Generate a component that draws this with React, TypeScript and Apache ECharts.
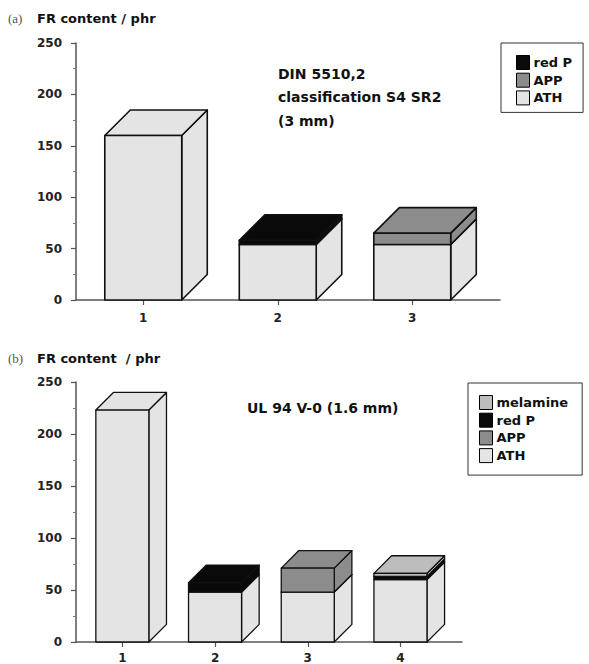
import React, { useEffect, useRef } from "react";
import * as echarts from "echarts";

// ---- data ----
const catsA = ["1", "2", "3"];
const athA = [160, 54, 54];
const appA = [0, 0, 11];
const redPA = [0, 4, 0];

const catsB = ["1", "2", "3", "4"];
const athB = [223, 48, 48, 60];
const appB = [0, 0, 23, 0];
const redPB = [0, 9, 0, 3];
const melB = [0, 0, 0, 3];

const yMax = 250;
const yStep = 50;

const COLORS: Record<string, string> = {
  ATH: "#e4e4e4",
  APP: "#8c8c8c",
  "red P": "#0a0a0a",
  melamine: "#bdbdbd",
};

const FONT = "DejaVu Sans";

function buildSeries(
  comps: { name: string; values: number[] }[],
  gridIdx: number,
  lw: number
) {
  const n = comps[0].values.length;
  const base = new Array(n).fill(0);
  const out: any[] = [];
  comps.forEach((c) => {
    const data: number[][] = [];
    c.values.forEach((v, i) => {
      if (v > 0) {
        data.push([i + 1, base[i], base[i] + v]);
        base[i] += v;
      }
    });
    const color = COLORS[c.name];
    out.push({
      type: "custom",
      name: c.name,
      xAxisIndex: gridIdx,
      yAxisIndex: gridIdx,
      itemStyle: { color },
      encode: { x: 0, y: 2 },
      data,
      renderItem: (params: any, api: any) => {
        const x = api.value(0);
        const b = api.value(1);
        const t = api.value(2);
        const p0 = api.coord([x, b]);
        const p1 = api.coord([x, t]);
        const band = api.size([1, 0])[0];
        const w = band * 0.572;
        const d = band * 0.19;
        const x0 = p0[0] - w / 2;
        const x1 = x0 + w;
        const yb = p0[1];
        const yt = p1[1];
        const style = { fill: color, stroke: "#111", lineWidth: lw, lineJoin: "round" };
        return {
          type: "group",
          children: [
            {
              type: "polygon",
              shape: { points: [[x1, yb], [x1 + d, yb - d], [x1 + d, yt - d], [x1, yt]] },
              style,
            },
            {
              type: "polygon",
              shape: { points: [[x0, yt], [x1, yt], [x1 + d, yt - d], [x0 + d, yt - d]] },
              style,
            },
            {
              type: "rect",
              shape: { x: x0, y: yt, width: w, height: yb - yt },
              style,
            },
          ],
        };
      },
    });
  });
  return out;
}

function xAxisFor(gridIndex: number, cats: string[], max: number, margin: number) {
  const vals = cats.map((_, i) => i + 1);
  return {
    type: "value",
    gridIndex,
    min: 0.5,
    max,
    splitLine: { show: false },
    axisLine: { show: true, lineStyle: { color: "#555", width: 1.5 } },
    axisTick: { show: true, customValues: vals, length: 5, lineStyle: { color: "#555", width: 1.2 } },
    axisLabel: {
      customValues: vals,
      margin,
      formatter: (v: number) => cats[Math.round(v) - 1] ?? "",
      fontFamily: FONT,
      fontWeight: "bold",
      fontSize: 12,
      color: "#222",
    },
  };
}

function yAxisFor(gridIndex: number) {
  return {
    type: "value",
    gridIndex,
    min: 0,
    max: yMax,
    interval: yStep,
    splitLine: { show: false },
    axisLine: { show: true, lineStyle: { color: "#555", width: 1.5 } },
    axisTick: { show: true, length: 5, lineStyle: { color: "#555", width: 1.2 } },
    minorTick: { show: true, splitNumber: 2, length: 3, lineStyle: { color: "#777", width: 1 } },
    axisLabel: {
      margin: 14,
      fontFamily: FONT,
      fontWeight: "bold",
      fontSize: 12,
      color: "#222",
    },
  };
}

function legendFor(names: string[], left: number, top: number, padding: number[]) {
  return {
    data: names,
    left,
    top,
    orient: "vertical",
    selectedMode: false,
    icon: "rect",
    itemWidth: 13,
    itemHeight: 14,
    itemGap: 2.7,
    itemStyle: { borderColor: "#000", borderWidth: 1 },
    borderColor: "#333",
    borderWidth: 1,
    padding,
    textStyle: { fontFamily: FONT, fontWeight: "bold", fontSize: 13, color: "#111", padding: [0, 0, 0, -1] },
  };
}

export default function App() {
  const ref = useRef<HTMLDivElement>(null);
  useEffect(() => {
    if (!ref.current) return;
    const chart = echarts.init(ref.current, null, { renderer: "svg" });
    const seriesA = buildSeries(
      [
        { name: "ATH", values: athA },
        { name: "APP", values: appA },
        { name: "red P", values: redPA },
      ],
      0,
      1.6
    );
    const seriesB = buildSeries(
      [
        { name: "ATH", values: athB },
        { name: "APP", values: appB },
        { name: "red P", values: redPB },
        { name: "melamine", values: melB },
      ],
      1,
      1.3
    );
    chart.setOption({
      animation: false,
      backgroundColor: "#fff",
      grid: [
        { left: 76, top: 43, width: 424, height: 257 },
        { left: 76, top: 382, width: 386, height: 260 },
      ],
      xAxis: [xAxisFor(0, catsA, 0.5 + 424 / 134.5, 12), xAxisFor(1, catsB, 0.5 + 386 / 92.7, 10)],
      yAxis: [yAxisFor(0), yAxisFor(1)],
      legend: [
        legendFor(["red P", "APP", "ATH"], 501, 43, [12, 11, 7, 15]),
        legendFor(["melamine", "red P", "APP", "ATH"], 468, 383, [12, 14, 12, 11]),
      ],
      graphic: [
        {
          type: "text",
          left: 8,
          top: 12,
          style: { text: "(a)", font: "13px 'Liberation Serif'", fill: "#555" },
        },
        {
          type: "text",
          left: 37,
          top: 12,
          style: { text: "FR content / phr", font: `bold 13px '${FONT}'`, fill: "#111" },
        },
        {
          type: "text",
          left: 8,
          top: 352,
          style: { text: "(b)", font: "13px 'Liberation Serif'", fill: "#555" },
        },
        {
          type: "text",
          left: 37,
          top: 352,
          style: { text: "FR content  / phr", font: `bold 13px '${FONT}'`, fill: "#111" },
        },
        {
          type: "text",
          left: 278,
          top: 62,
          style: {
            text: "DIN 5510,2\nclassification S4 SR2\n(3 mm)",
            font: `bold 14px '${FONT}'`,
            lineHeight: 23.5,
            fill: "#111",
          },
        },
        {
          type: "text",
          left: 247,
          top: 401,
          style: { text: "UL 94 V-0 (1.6 mm)", font: `bold 14px '${FONT}'`, fill: "#111" },
        },
      ],
      series: [...seriesA, ...seriesB],
    });
    return () => chart.dispose();
  }, []);
  return (
    <div
      ref={ref}
      style={{ position: "fixed", left: 0, top: 0, width: 589, height: 664 }}
    />
  );
}
